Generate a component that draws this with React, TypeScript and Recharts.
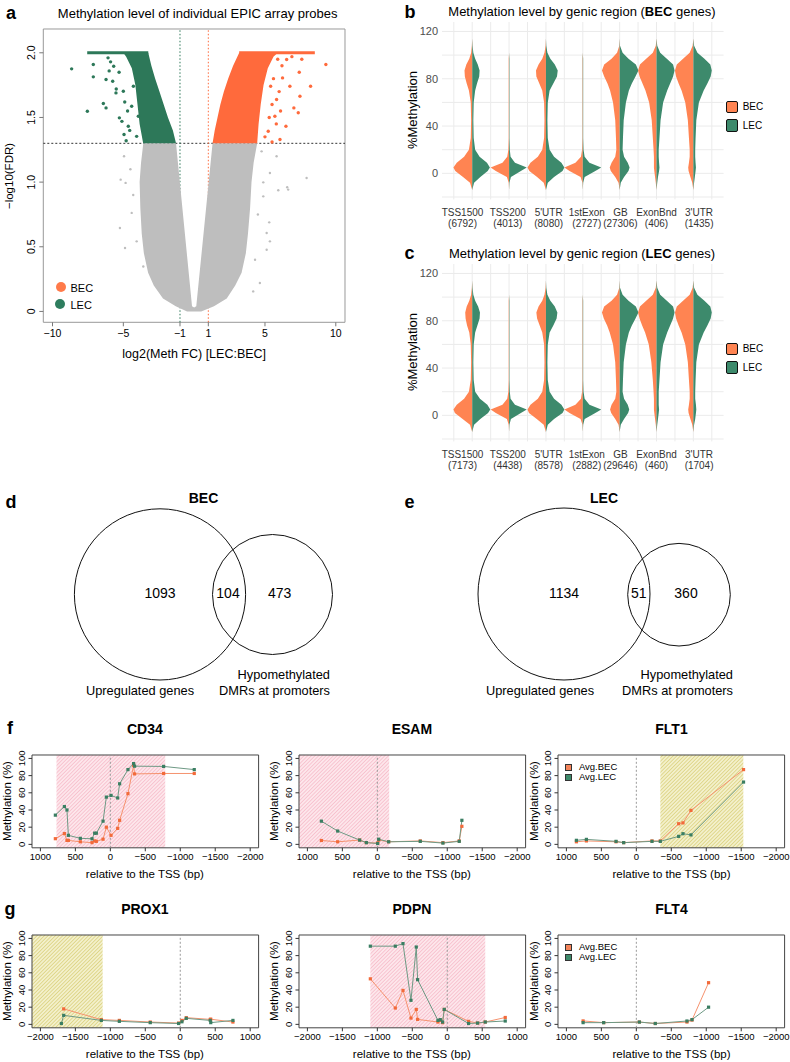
import React from "react";
import {
  ScatterChart,
  ComposedChart,
  Scatter,
  Line,
  XAxis,
  YAxis,
  CartesianGrid,
  ReferenceLine,
  ReferenceArea,
  ReferenceDot,
} from "recharts";

// ── Look ──────────────────────────────────────────────────────────────────────
const FONT = '"Liberation Sans", Arial, Helvetica, sans-serif';
const ORANGE = "#FF6A3C";
const GREEN = "#2D7859";
const GREY = "#BEBEBE";
const V_ORANGE = "#FF8452";
const V_GREEN = "#3D8A6C";
const L_ORANGE = "#F5926D";
const L_ORANGE_PT = "#F26A3A";
const L_GREEN = "#6D9985";
const L_GREEN_PT = "#3A7E62";

// ── a: volcano (log2 FC vs -log10 FDR) ────────────────────────────────────────
const VOL_X = [-10.65, 10.65];
const VOL_Y = [-0.084, 2.184];
const VOL_XTICKS = [-10, -5, -1, 1, 5, 10];
const VOL_YTICKS = [0, 0.5, 1, 1.5, 2];
const FDR_CUT = 1.3;
const FC_CUT = [-1, 1];

// outline of the dense grey cloud (not significant)
const GRAY_HULL_X = [-3.59, -3.75, -3.85, -3.8, -3.7, -3.55, -3.25, -2.85, -2.2, -1.3, -0.5, 0.5, 1.4, 2.3, 2.9, 3.35, 3.65, 3.8, 3.95, 4.05, 4.2, 4.45, 1.3, 0.15, 0, -0.15, -1.28];
const GRAY_HULL_Y = [1.3, 1.15, 1.0, 0.8, 0.6, 0.45, 0.3, 0.2, 0.1, 0.04, 0, 0, 0.04, 0.1, 0.2, 0.3, 0.45, 0.6, 0.8, 1.0, 1.15, 1.3, 1.3, 0.04, 0.03, 0.04, 1.3];
// dense LEC / BEC clouds above the FDR cut
const GREEN_HULL_X = [-3.6, -3.85, -4.0, -4.15, -4.4, -4.8, -5.0, -3.24, -3.02, -2.75, -2.45, -2.15, -1.85, -1.5, -1.28];
const GREEN_HULL_Y = [1.3, 1.45, 1.6, 1.75, 1.88, 1.97, 2.0, 2.0, 1.9, 1.8, 1.7, 1.6, 1.5, 1.4, 1.3];
const ORANGE_HULL_X = [1.3, 1.45, 1.65, 1.85, 2.1, 2.4, 2.75, 3.18, 5.9, 5.6, 5.2, 4.9, 4.7, 4.55, 4.45];
const ORANGE_HULL_Y = [1.3, 1.4, 1.5, 1.6, 1.7, 1.8, 1.9, 2.0, 2.0, 1.97, 1.88, 1.75, 1.6, 1.45, 1.3];
// probes piled up at the FDR cap
const GREEN_CAP = [-7.55, -3.24];
const ORANGE_CAP = [3.18, 8.52];
// stray probes
const GRAY_PTS_X = [-4.95, -5.19, -4.84, -5.24, -4.88, -4.06, -4.41, -3.59, 7.94, 6.64, 5.94, 5.35, 4.88, 5.3, 5.12, 4.88, 5.82, 4.76, 5.35, 5.12, 6.57, 4.64, 4.17, -4.3, -4.5, 4.5, 4.3];
const GRAY_PTS_Y = [1.2, 1.019, 0.994, 0.645, 0.49, 0.542, 0.762, 0.348, 1.032, 0.942, 0.937, 1.071, 0.998, 0.689, 0.607, 0.89, 1.2, 1.238, 0.542, 0.477, 0.96, 0.22, 0.155, 0.9, 1.1, 0.75, 0.4];
const GREEN_PTS_X = [-8.65, -7.54, -7.12, -7.12, -6.41, -6.22, -6.22, -5.75, -5.52, -5.28, -4.95, -4.65, -5.0, -5.68, -6.08, -4.41, -4.06, -4.29, -3.94, -5.9, -5.3, -4.9, -4.7, -5.1, -4.55, -4.8, -5.5, -6.0];
const GREEN_PTS_Y = [1.876, 1.548, 1.814, 1.91, 1.608, 1.574, 1.793, 1.78, 1.69, 1.497, 1.368, 1.432, 1.703, 1.896, 1.961, 1.587, 1.354, 1.741, 1.509, 1.93, 1.85, 1.62, 1.55, 1.47, 1.4, 1.32, 1.72, 1.86];
const ORANGE_PTS_X = [9.3, 8.22, 7.42, 7.47, 7.35, 7.04, 6.48, 6.06, 6.76, 6.24, 6.53, 5.82, 5.7, 5.23, 5.4, 5.9, 6.2, 5.6, 6.0, 5.5, 6.1, 5.3, 5.8, 5.0, 5.5, 6.9, 7.6];
const ORANGE_PTS_Y = [1.909, 1.741, 1.85, 1.664, 1.536, 1.574, 1.432, 1.329, 1.741, 1.806, 1.948, 1.639, 1.509, 1.393, 1.741, 1.95, 1.9, 1.8, 1.7, 1.6, 1.55, 1.5, 1.45, 1.35, 1.31, 1.97, 1.95];

// ── b/c: split violins by genic region ────────────────────────────────────────
const REGIONS = ["TSS1500", "TSS200", "5'UTR", "1stExon", "GB", "ExonBnd", "3'UTR"];
const B_COUNTS = [6792, 4013, 8080, 2727, 27306, 406, 1435];
const C_COUNTS = [7173, 4438, 8578, 2882, 29646, 460, 1704];
const V_LEVELS = [-14, -8, -3, 2, 5, 9, 14, 20, 30, 45, 60, 70, 76, 82, 87, 92, 97, 102, 108, 114];
const V_YTICKS = [0, 40, 80, 120];
const V_GRID_Y = [-20, 0, 20, 40, 60, 80, 100, 120];
const V_GRID_X = [0.5, 1, 1.5, 2, 2.5, 3, 3.5, 4, 4.5, 5, 5.5, 6, 6.5, 7, 7.5];
// labels are nudged apart in the figure so they don't collide
const V_LABEL_DX = [-9.7, -1.3, 2.7, 4, 0.7, 0, 5.7];

// half-widths of each violin at V_LEVELS (category units)
const B_BEC = [
  [0, 0.06, 0.25, 0.46, 0.51, 0.42, 0.22, 0.09, 0.04, 0.03, 0.04, 0.09, 0.15, 0.2, 0.21, 0.16, 0.08, 0.03, 0.01, 0],
  [0, 0.01, 0.06, 0.36, 0.5, 0.18, 0.05, 0.02, 0.01, 0.01, 0.01, 0.01, 0.01, 0.01, 0.01, 0.01, 0.01, 0, 0, 0],
  [0, 0.06, 0.24, 0.45, 0.5, 0.42, 0.22, 0.1, 0.05, 0.04, 0.05, 0.1, 0.18, 0.26, 0.27, 0.2, 0.1, 0.04, 0.01, 0],
  [0, 0.01, 0.06, 0.36, 0.5, 0.2, 0.05, 0.02, 0.01, 0.01, 0.01, 0.01, 0.01, 0.01, 0.01, 0.01, 0.01, 0, 0, 0],
  [0, 0.03, 0.12, 0.24, 0.27, 0.22, 0.12, 0.09, 0.1, 0.12, 0.18, 0.26, 0.33, 0.42, 0.48, 0.42, 0.22, 0.07, 0.01, 0],
  [0, 0.02, 0.04, 0.06, 0.07, 0.07, 0.07, 0.08, 0.1, 0.13, 0.2, 0.3, 0.38, 0.46, 0.5, 0.45, 0.28, 0.1, 0.02, 0],
  [0, 0.03, 0.08, 0.13, 0.14, 0.12, 0.1, 0.1, 0.12, 0.15, 0.22, 0.32, 0.4, 0.47, 0.5, 0.45, 0.28, 0.1, 0.02, 0],
];
const B_LEC = [
  [0, 0.05, 0.22, 0.42, 0.48, 0.4, 0.2, 0.08, 0.04, 0.03, 0.04, 0.08, 0.13, 0.19, 0.2, 0.15, 0.08, 0.03, 0.01, 0],
  [0, 0.01, 0.05, 0.32, 0.48, 0.16, 0.04, 0.02, 0.01, 0.01, 0.01, 0.01, 0.01, 0.01, 0.01, 0.01, 0.01, 0, 0, 0],
  [0, 0.05, 0.22, 0.45, 0.5, 0.42, 0.22, 0.1, 0.05, 0.04, 0.05, 0.1, 0.2, 0.3, 0.32, 0.24, 0.12, 0.04, 0.01, 0],
  [0, 0.01, 0.05, 0.34, 0.5, 0.18, 0.05, 0.02, 0.01, 0.01, 0.01, 0.01, 0.01, 0.01, 0.01, 0.01, 0.01, 0, 0, 0],
  [0, 0.03, 0.12, 0.24, 0.27, 0.22, 0.12, 0.08, 0.09, 0.11, 0.17, 0.25, 0.33, 0.43, 0.51, 0.44, 0.24, 0.08, 0.01, 0],
  [0, 0.02, 0.04, 0.07, 0.08, 0.07, 0.06, 0.06, 0.08, 0.11, 0.18, 0.29, 0.37, 0.45, 0.49, 0.45, 0.28, 0.1, 0.02, 0],
  [0, 0.02, 0.04, 0.06, 0.07, 0.06, 0.05, 0.05, 0.06, 0.08, 0.15, 0.28, 0.38, 0.47, 0.5, 0.46, 0.3, 0.11, 0.02, 0],
];
const C_BEC = [
  [0, 0.06, 0.26, 0.47, 0.51, 0.42, 0.22, 0.09, 0.04, 0.03, 0.04, 0.08, 0.14, 0.18, 0.19, 0.15, 0.08, 0.03, 0.01, 0],
  [0, 0.01, 0.06, 0.36, 0.5, 0.18, 0.05, 0.02, 0.01, 0.01, 0.01, 0.01, 0.01, 0.01, 0.01, 0.01, 0.01, 0, 0, 0],
  [0, 0.06, 0.25, 0.46, 0.5, 0.42, 0.22, 0.1, 0.05, 0.04, 0.05, 0.1, 0.17, 0.24, 0.26, 0.2, 0.1, 0.04, 0.01, 0],
  [0, 0.01, 0.06, 0.36, 0.5, 0.2, 0.05, 0.02, 0.01, 0.01, 0.01, 0.01, 0.01, 0.01, 0.01, 0.01, 0.01, 0, 0, 0],
  [0, 0.03, 0.12, 0.23, 0.26, 0.22, 0.12, 0.09, 0.1, 0.12, 0.18, 0.27, 0.34, 0.43, 0.48, 0.42, 0.22, 0.07, 0.01, 0],
  [0, 0.02, 0.04, 0.06, 0.07, 0.07, 0.07, 0.08, 0.1, 0.14, 0.21, 0.31, 0.39, 0.46, 0.5, 0.45, 0.28, 0.1, 0.02, 0],
  [0, 0.03, 0.08, 0.13, 0.14, 0.12, 0.1, 0.1, 0.12, 0.15, 0.22, 0.32, 0.4, 0.47, 0.5, 0.45, 0.28, 0.1, 0.02, 0],
];
const C_LEC = [
  [0, 0.05, 0.22, 0.43, 0.49, 0.41, 0.21, 0.08, 0.04, 0.03, 0.04, 0.08, 0.14, 0.2, 0.21, 0.16, 0.08, 0.03, 0.01, 0],
  [0, 0.01, 0.05, 0.32, 0.48, 0.16, 0.04, 0.02, 0.01, 0.01, 0.01, 0.01, 0.01, 0.01, 0.01, 0.01, 0.01, 0, 0, 0],
  [0, 0.05, 0.22, 0.45, 0.5, 0.42, 0.22, 0.1, 0.05, 0.04, 0.05, 0.1, 0.2, 0.29, 0.31, 0.24, 0.12, 0.04, 0.01, 0],
  [0, 0.01, 0.05, 0.34, 0.5, 0.18, 0.05, 0.02, 0.01, 0.01, 0.01, 0.01, 0.01, 0.01, 0.01, 0.01, 0.01, 0, 0, 0],
  [0, 0.03, 0.12, 0.23, 0.26, 0.22, 0.12, 0.08, 0.09, 0.11, 0.17, 0.25, 0.33, 0.43, 0.51, 0.44, 0.24, 0.08, 0.01, 0],
  [0, 0.02, 0.04, 0.06, 0.07, 0.06, 0.06, 0.06, 0.08, 0.11, 0.18, 0.29, 0.37, 0.45, 0.49, 0.45, 0.28, 0.1, 0.02, 0],
  [0, 0.02, 0.05, 0.07, 0.08, 0.07, 0.05, 0.05, 0.06, 0.08, 0.15, 0.28, 0.38, 0.47, 0.5, 0.46, 0.3, 0.11, 0.02, 0],
];

// ── d/e: venn counts ──────────────────────────────────────────────────────────
const VENN_BEC_COUNTS = [1093, 104, 473];
const VENN_LEC_COUNTS = [1134, 51, 360];
const VENN_SETS = ["Upregulated genes", "Hypomethylated", "DMRs at promoters"];

// ── f/g: methylation around the TSS (bp, %) ───────────────────────────────────
const CD34_BP = [786, 657, 620, 600, 429, 262, 224, 200, 104, 57, -10, -105, -133, -252, -333, -347, -762, -1200];
const CD34_BEC = [6.6, 12.6, 4.6, 4.6, 3, 2, 4, 3.5, 6, 20, 10.5, 18.6, 28, 59, 92, 82, 82.5, 82.5];
const CD34_LEC = [34, 44, 40, 10.5, 7, 6.5, 13, 13, 27, 55, 57, 54, 70.5, 87, 94, 91, 90.7, 87];
const CD34_DMR = [770, -785];

const ESAM_BP = [800, 567, 253, 157, -5, -19, -162, -614, -938, -1171, -1209];
const ESAM_BEC = [4.5, 3, 5, 2, 1.5, 5, 3, 4, 2, 4, 21];
const ESAM_LEC = [27, 15.5, 5, 2, 1, 6, 3, 3.5, 1.5, 3.5, 28];
const ESAM_DMR = [1120, -170];

const FLT1_BP = [857, 714, 290, 181, -224, -343, -605, -667, -781, -1533];
const FLT1_BEC = [3, 4, 3, 2, 4, 4, 24, 25, 39.5, 87];
const FLT1_LEC = [4.7, 5.8, 3.5, 2, 3.5, 3.5, 9.3, 12.4, 11, 72.5];
const FLT1_DMR = [-343, -1530];

const PROX1_BP = [-1700, -1667, -1129, -871, -429, -24, 24, 86, 429, 436, 753];
const PROX1_BEC = [null, 18, 5.5, 4.6, 2.7, 1.5, 4.6, 7.8, 5.8, 6, 2.7];
const PROX1_LEC = [1, 10.5, 4.6, 3.5, 2, 1, 3, 7, 4.6, 2, 4.6];
const PROX1_DMR = [-2120, -1110];

const PDPN_BP = [-1100, -743, -633, -519, -443, -424, -133, -100, -67, -43, 305, 433, 543, 829];
const PDPN_BEC = [53, 19, 39.5, 7.3, 17.4, 5.8, 2.7, 4.6, 2, 17.4, 3.5, 1.5, 2.7, 8];
const PDPN_LEC = [91, 91, 94, 28, 90, 52, 4.6, 5.5, 2.7, 17.4, 1, 1.5, 2.7, 3.9];
const PDPN_DMR = [-1100, 543];

const FLT4_BP = [761, 467, -43, -271, -724, -796, -1033];
const FLT4_BEC = [4, 2, 2.7, 1, 2.7, 5, 48.5];
const FLT4_LEC = [2, 2, 2.7, 1, 3.9, 5.5, 20];

const TSS_DOM = [-2120, 1120];
const TSS_TICKS = [-2000, -1500, -1000, -500, 0, 500, 1000];
const METH_DOM = [-4, 104];
const METH_TICKS = [0, 20, 40, 60, 80, 100];

// ── helpers ───────────────────────────────────────────────────────────────────
const zip = (xs: number[], ys: number[]) => xs.map((x, i) => ({ x, y: ys[i] }));
const minus = (v: number) => (v < 0 ? `\u2212${Math.abs(v)}` : `${v}`);
const noMark = () => <g />;
const dotMark = (fill: string, r: number) => (p: any) =>
  <circle cx={p.cx} cy={p.cy} r={r} fill={fill} />;
// Scatter "line" drawn as a filled polygon through the scaled points
const fillPoly = (fill: string) => (p: any) => (
  <polygon points={(p.points || []).map((q: any) => `${q.x},${q.y}`).join(" ")} fill={fill} stroke="none" />
);

function Txt({ x, y, children, size = 12, bold = false, rotate = false, anchor = "middle", color = "#000" }: any) {
  const tx = anchor === "middle" ? "-50%" : anchor === "end" ? "-100%" : "0";
  return (
    <div
      style={{
        position: "absolute",
        left: x,
        top: y,
        transform: `translate(${tx}, -50%)${rotate ? " rotate(-90deg)" : ""}`,
        fontSize: size,
        fontWeight: bold ? 700 : 400,
        whiteSpace: "nowrap",
        lineHeight: 1,
        color,
      }}
    >
      {children}
    </div>
  );
}

function RotTick(props: any) {
  const { x, y, payload, size, fmt } = props;
  return (
    <text x={x} y={y} transform={`rotate(-90 ${x} ${y})`} textAnchor="middle" fontSize={size} fill="#000">
      {fmt ? fmt(payload.value) : payload.value}
    </text>
  );
}

// ── a ─────────────────────────────────────────────────────────────────────────
function Volcano() {
  const box = { left: 43.3, top: 29.3, w: 301.7, h: 293.3 };
  const yw = 43.3;
  const xh = 40;
  const mt = 8;
  return (
    <div style={{ position: "absolute", left: box.left - yw, top: box.top - mt }}>
      <ScatterChart width={yw + box.w + 10} height={mt + box.h + xh} margin={{ top: mt, right: 10, bottom: 0, left: 0 }}>
        <XAxis type="number" dataKey="x" domain={VOL_X} ticks={VOL_XTICKS} tickFormatter={minus} interval={0}
          axisLine={false} tickSize={4} tickMargin={3} height={xh} allowDataOverflow
          tick={{ fontSize: 10.5, fill: "#000" }} tickLine={{ stroke: "#777" }} />
        <YAxis type="number" dataKey="y" domain={VOL_Y} ticks={VOL_YTICKS} interval={0} width={yw}
          axisLine={false} tickSize={4} tickMargin={4} allowDataOverflow tickLine={{ stroke: "#777" }}
          tick={<RotTick size={10.5} fmt={(v: number) => (v === 0 ? "0" : v.toFixed(1))} />} />
        <Scatter data={zip(GRAY_HULL_X, GRAY_HULL_Y)} line={fillPoly(GREY)} shape={noMark} isAnimationActive={false} />
        <Scatter data={zip(GRAY_PTS_X, GRAY_PTS_Y)} shape={dotMark(GREY, 1.2)} isAnimationActive={false} />
        <Scatter data={zip(GREEN_HULL_X, GREEN_HULL_Y)} line={fillPoly(GREEN)} shape={noMark} isAnimationActive={false} />
        <Scatter data={zip(ORANGE_HULL_X, ORANGE_HULL_Y)} line={fillPoly(ORANGE)} shape={noMark} isAnimationActive={false} />
        <Scatter data={zip(GREEN_PTS_X, GREEN_PTS_Y)} shape={dotMark(GREEN, 1.7)} isAnimationActive={false} />
        <Scatter data={zip(ORANGE_PTS_X, ORANGE_PTS_Y)} shape={dotMark(ORANGE, 1.7)} isAnimationActive={false} />
        <ReferenceLine segment={[{ x: GREEN_CAP[0], y: 2 }, { x: GREEN_CAP[1], y: 2 }]} stroke={GREEN} strokeWidth={3} />
        <ReferenceLine segment={[{ x: ORANGE_CAP[0], y: 2 }, { x: ORANGE_CAP[1], y: 2 }]} stroke={ORANGE} strokeWidth={3} />
        <ReferenceLine y={FDR_CUT} stroke="#333" strokeDasharray="2 2" />
        <ReferenceLine x={FC_CUT[0]} stroke={GREEN} strokeDasharray="1.5 2" />
        <ReferenceLine x={FC_CUT[1]} stroke={ORANGE} strokeDasharray="1.5 2" />
        <ReferenceArea x1={VOL_X[0]} x2={VOL_X[1]} y1={VOL_Y[0]} y2={VOL_Y[1]} fill="none" stroke="#999" />
      </ScatterChart>
    </div>
  );
}

// ── b/c ───────────────────────────────────────────────────────────────────────
function halfViolin(center: number, widths: number[], side: number) {
  const edge = V_LEVELS.map((y, i) => ({ x: center + side * widths[i], y }));
  const spine = V_LEVELS.slice().reverse().map(y => ({ x: center, y }));
  return [...edge, ...spine];
}

function RegionTick(props: any) {
  const { x, y, payload, counts } = props;
  const i = Math.round(payload.value) - 1;
  const lx = x + V_LABEL_DX[i];
  return (
    <text x={lx} y={y} textAnchor="middle" fontSize={10} fill="#333">
      <tspan x={lx} dy={16.6}>{REGIONS[i]}</tspan>
      <tspan x={lx} dy={11.4}>({counts[i]})</tspan>
    </text>
  );
}

function ViolinPanel({ top, counts, bec, lec }: any) {
  const plot = { left: 441.7, w: 281.6, h: 177.4 };
  const yw = 45;
  const xh = 36;
  return (
    <div style={{ position: "absolute", left: plot.left - yw, top }}>
      <ScatterChart width={yw + plot.w + 6} height={plot.h + xh} margin={{ top: 0, right: 6, bottom: 0, left: 0 }}>
        <CartesianGrid horizontalValues={V_GRID_Y} verticalValues={V_GRID_X} stroke="#EBEBEB" />
        <XAxis type="number" dataKey="x" domain={[0.18, 7.82]} ticks={[1, 2, 3, 4, 5, 6, 7]} interval={0}
          axisLine={false} tickLine={false} tickSize={0} tickMargin={0} height={xh} allowDataOverflow
          tick={<RegionTick counts={counts} />} />
        <YAxis type="number" dataKey="y" domain={[-22, 128]} ticks={V_YTICKS} interval={0} width={yw}
          axisLine={false} tickLine={false} tickSize={3} tickMargin={1} allowDataOverflow
          tick={{ fontSize: 11, fill: "#4D4D4D" }} />
        {REGIONS.flatMap((r, i) => [
          <Scatter key={`b-${r}`} data={halfViolin(i + 1, bec[i], -1)} line={fillPoly(V_ORANGE)} shape={noMark} isAnimationActive={false} />,
          <Scatter key={`l-${r}`} data={halfViolin(i + 1, lec[i], 1)} line={fillPoly(V_GREEN)} shape={noMark} isAnimationActive={false} />,
        ])}
      </ScatterChart>
    </div>
  );
}

function ViolinLegend({ top }: { top: number }) {
  const sq = (c: string, y: number) => (
    <div style={{ position: "absolute", left: 725.7, top: y, width: 10.6, height: 10.6, background: c, border: "1.2px solid #111", borderRadius: 2 }} />
  );
  return (
    <>
      {sq(V_ORANGE, top - 6.5)}
      {sq(V_GREEN, top + 12)}
      <Txt x={742.7} y={top} anchor="start" size={10}>BEC</Txt>
      <Txt x={742.7} y={top + 18.7} anchor="start" size={10}>LEC</Txt>
    </>
  );
}

// ── d/e ───────────────────────────────────────────────────────────────────────
const VENN_TOP = 480;
const VENN_H = 220;
const VENN_D = {
  left: 0, w: 400,
  circles: [[160, 114.4, 85.6], [272.5, 114.5, 60]],
  countAt: [[160, 112.7], [228, 112.7], [279.6, 112.7]],
  setAt: [[140, 210, "middle"], [330, 194, "end"], [330, 210, "end"]],
};
const VENN_E = {
  left: 400, w: 390,
  circles: [[164, 114, 86], [279, 114.7, 51.3]],
  countAt: [[164, 112.7], [238.8, 112.7], [286, 112.7]],
  setAt: [[140, 210, "middle"], [333, 194, "end"], [333, 210, "end"]],
};

const textMark = (size: number) => (p: any) => (
  <text x={p.cx} y={p.cy} textAnchor={p.payload.anchor || "middle"} dominantBaseline="central" fontSize={size} fill="#000">
    {p.payload.t}
  </text>
);

function Venn({ layout, counts }: any) {
  const nums = layout.countAt.map((p: number[], i: number) => ({ x: p[0], y: p[1], t: String(counts[i]) }));
  const sets = layout.setAt.map((p: any[], i: number) => ({ x: p[0], y: p[1], anchor: p[2], t: VENN_SETS[i] }));
  return (
    <div style={{ position: "absolute", left: layout.left, top: VENN_TOP }}>
      <ScatterChart width={layout.w} height={VENN_H} margin={{ top: 0, right: 0, bottom: 0, left: 0 }}>
        <XAxis type="number" dataKey="x" domain={[0, layout.w]} hide allowDataOverflow />
        <YAxis type="number" dataKey="y" domain={[0, VENN_H]} reversed hide allowDataOverflow />
        {layout.circles.map((c: number[], i: number) => (
          <ReferenceDot key={i} x={c[0]} y={c[1]} r={c[2]} fill="none" stroke="#111" strokeWidth={1} />
        ))}
        <Scatter data={nums} shape={textMark(14)} isAnimationActive={false} />
        <Scatter data={sets} shape={textMark(12.8)} isAnimationActive={false} />
      </ScatterChart>
    </div>
  );
}

// ── f/g ───────────────────────────────────────────────────────────────────────
const BOX_W = 226.6;
const BOX_H = 92.8;
const LC_YW = 31;
const LC_XH = 32;
const LC_MT = 8;
const LC_MR = 16;
// third column pulled in a little so its last tick label stays on the page
const COLS = [31.6, 298.6, 558.2];
const ROWS = [754.6, 934.6];

const GENES = [
  { name: "CD34", bp: CD34_BP, bec: CD34_BEC, lec: CD34_LEC, dmr: CD34_DMR, tone: "pink", reversed: true, col: 0, row: 0 },
  { name: "ESAM", bp: ESAM_BP, bec: ESAM_BEC, lec: ESAM_LEC, dmr: ESAM_DMR, tone: "pink", reversed: true, col: 1, row: 0 },
  { name: "FLT1", bp: FLT1_BP, bec: FLT1_BEC, lec: FLT1_LEC, dmr: FLT1_DMR, tone: "olive", reversed: true, col: 2, row: 0, legend: true },
  { name: "PROX1", bp: PROX1_BP, bec: PROX1_BEC, lec: PROX1_LEC, dmr: PROX1_DMR, tone: "olive", reversed: false, col: 0, row: 1 },
  { name: "PDPN", bp: PDPN_BP, bec: PDPN_BEC, lec: PDPN_LEC, dmr: PDPN_DMR, tone: "pink", reversed: false, col: 1, row: 1 },
  { name: "FLT4", bp: FLT4_BP, bec: FLT4_BEC, lec: FLT4_LEC, dmr: null, tone: "pink", reversed: true, col: 2, row: 1, legend: true },
];

const sqDot = (fill: string) => (p: any) => {
  if (p.cx == null || p.cy == null || p.value == null) return <g key={p.index} />;
  return <rect key={p.index} x={p.cx - 1.6} y={p.cy - 1.6} width={3.2} height={3.2} fill={fill} />;
};

function MethPlot({ g }: any) {
  const boxLeft = COLS[g.col];
  const boxTop = ROWS[g.row];
  const rows = g.bp.map((b: number, i: number) => ({ bp: b, bec: g.bec[i], lec: g.lec[i] }));
  const pid = `hatch-${g.name}`;
  return (
    <div style={{ position: "absolute", left: boxLeft - LC_YW, top: boxTop - LC_MT }}>
      <ComposedChart width={LC_YW + BOX_W + LC_MR} height={LC_MT + BOX_H + LC_XH} data={rows}
        margin={{ top: LC_MT, right: LC_MR, bottom: 0, left: 0 }}>
        <defs>
          <pattern id={pid} width="2.6" height="2.6" patternUnits="userSpaceOnUse" patternTransform="rotate(45)">
            <rect width="2.6" height="2.6" fill={g.tone === "pink" ? "#FDE6EB" : "#F3F0CB"} />
            <line x1="0" y1="0" x2="0" y2="2.6" stroke={g.tone === "pink" ? "#F29DB1" : "#C8BA44"} strokeWidth="0.9" />
          </pattern>
        </defs>
        <XAxis type="number" dataKey="bp" domain={TSS_DOM} reversed={g.reversed} ticks={TSS_TICKS} interval={0}
          tickFormatter={minus} axisLine={false} tickSize={3.5} tickMargin={2} height={LC_XH} allowDataOverflow
          tick={{ fontSize: 9.5, fill: "#000" }} tickLine={{ stroke: "#333" }} />
        <YAxis type="number" domain={METH_DOM} ticks={METH_TICKS} interval={0} width={LC_YW}
          axisLine={false} tickSize={3.5} tickMargin={3} allowDataOverflow tickLine={{ stroke: "#333" }}
          tick={<RotTick size={9.5} />} />
        {g.dmr && (
          <ReferenceArea x1={g.dmr[0]} x2={g.dmr[1]} y1={METH_DOM[0]} y2={METH_DOM[1]} fill={`url(#${pid})`} stroke="none" fillOpacity={1} />
        )}
        <ReferenceLine x={0} stroke="#999" strokeDasharray="2 2" />
        <Line type="linear" dataKey="bec" stroke={L_ORANGE} strokeWidth={1} dot={sqDot(L_ORANGE_PT)} activeDot={false}
          connectNulls={false} isAnimationActive={false} />
        <Line type="linear" dataKey="lec" stroke={L_GREEN} strokeWidth={1} dot={sqDot(L_GREEN_PT)} activeDot={false}
          connectNulls={false} isAnimationActive={false} />
        <ReferenceArea x1={TSS_DOM[0]} x2={TSS_DOM[1]} y1={METH_DOM[0]} y2={METH_DOM[1]} fill="none" stroke="#444" />
      </ComposedChart>
    </div>
  );
}

function MethLabels({ g }: any) {
  const boxLeft = COLS[g.col];
  const boxTop = ROWS[g.row];
  const cx = boxLeft + BOX_W / 2;
  return (
    <>
      <Txt x={cx} y={boxTop - 26} size={14} bold>{g.name}</Txt>
      <Txt x={cx} y={boxTop + BOX_H + 27.6} size={11.5}>relative to the TSS (bp)</Txt>
      <Txt x={boxLeft - 23.5} y={boxTop + BOX_H / 2} size={11.5} rotate>Methylation (%)</Txt>
      {g.legend && (
        <>
          <div style={{ position: "absolute", left: boxLeft + 6.7, top: boxTop + 9.4, width: 5, height: 5, background: "#F4845A", border: "1px solid #333" }} />
          <div style={{ position: "absolute", left: boxLeft + 6.7, top: boxTop + 19.4, width: 5, height: 5, background: "#3C8A6B", border: "1px solid #333" }} />
          <Txt x={boxLeft + 20.7} y={boxTop + 12.4} anchor="start" size={9.5}>Avg.BEC</Txt>
          <Txt x={boxLeft + 20.7} y={boxTop + 22.4} anchor="start" size={9.5}>Avg.LEC</Txt>
        </>
      )}
    </>
  );
}

// ── page ──────────────────────────────────────────────────────────────────────
export default function App() {
  return (
    <div style={{ position: "absolute", left: 0, top: 0, width: 790, height: 1062, overflow: "hidden", background: "#fff", fontFamily: FONT, color: "#000" }}>
      {/* a */}
      <Txt x={11} y={12.5} size={18} bold>a</Txt>
      <Txt x={197.7} y={13} size={13}>Methylation level of individual EPIC array probes</Txt>
      <Volcano />
      <Txt x={10} y={176} size={11.5} rotate>{"\u2212log10(FDR)"}</Txt>
      <Txt x={194.2} y={354} size={12.5}>log2(Meth FC) [LEC:BEC]</Txt>
      <div style={{ position: "absolute", left: 56, top: 282.3, width: 10, height: 10, borderRadius: "50%", background: "#FF7A4A" }} />
      <div style={{ position: "absolute", left: 55.3, top: 299.3, width: 10, height: 10, borderRadius: "50%", background: "#2E7D5E" }} />
      <Txt x={70.5} y={288} anchor="start" size={11}>BEC</Txt>
      <Txt x={70.5} y={304.5} anchor="start" size={11}>LEC</Txt>

      {/* b */}
      <Txt x={410} y={12} size={18} bold>b</Txt>
      <Txt x={582} y={11} size={13}>Methylation level by genic region (<b>BEC</b> genes)</Txt>
      <ViolinPanel top={21.9} counts={B_COUNTS} bec={B_BEC} lec={B_LEC} />
      <Txt x={411.7} y={110} size={13} rotate>%Methylation</Txt>
      <ViolinLegend top={107.3} />

      {/* c */}
      <Txt x={409.5} y={253} size={18} bold>c</Txt>
      <Txt x={582} y={253} size={13}>Methylation level by genic region (<b>LEC</b> genes)</Txt>
      <ViolinPanel top={263.9} counts={C_COUNTS} bec={C_BEC} lec={C_LEC} />
      <Txt x={411.7} y={352} size={13} rotate>%Methylation</Txt>
      <ViolinLegend top={349.3} />

      {/* d / e */}
      <Txt x={11} y={502} size={18} bold>d</Txt>
      <Txt x={203.5} y={498.3} size={14} bold>BEC</Txt>
      <Venn layout={VENN_D} counts={VENN_BEC_COUNTS} />
      <Txt x={409.5} y={502} size={18} bold>e</Txt>
      <Txt x={604} y={498.3} size={14} bold>LEC</Txt>
      <Venn layout={VENN_E} counts={VENN_LEC_COUNTS} />

      {/* f / g */}
      <Txt x={10} y={728} size={18} bold>f</Txt>
      <Txt x={10} y={909} size={18} bold>g</Txt>
      {GENES.map(g => <MethPlot key={g.name} g={g} />)}
      {GENES.map(g => <MethLabels key={`lab-${g.name}`} g={g} />)}
    </div>
  );
}
